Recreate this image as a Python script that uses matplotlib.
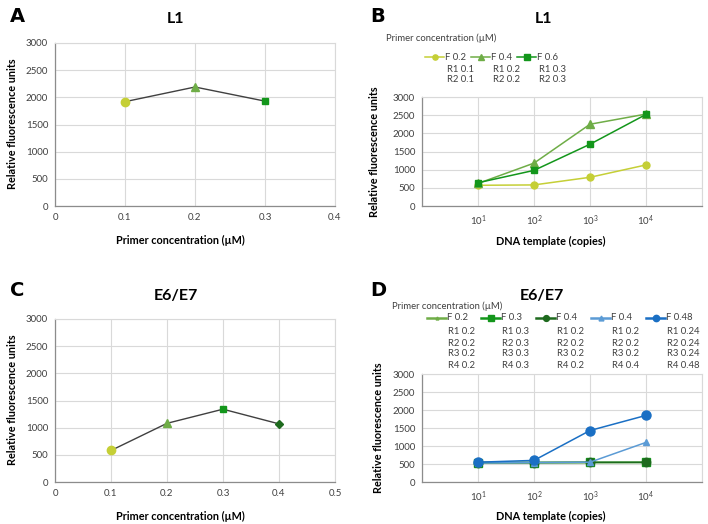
import matplotlib
matplotlib.use("Agg")
import matplotlib.pyplot as plt
from matplotlib.lines import Line2D

plt.rcParams['font.family'] = ['Lato', 'DejaVu Sans']
plt.rcParams['mathtext.default'] = 'regular'

# ---- data ----
conc_A = [0.1, 0.2, 0.3]
rfu_A = [1920, 2190, 1930]

conc_C = [0.1, 0.2, 0.3, 0.4]
rfu_C = [580, 1080, 1340, 1070]

templates = ['$10^1$', '$10^2$', '$10^3$', '$10^4$']

B_labels = ['F 0.2', 'F 0.4', 'F 0.6']
B_sub = [['R1 0.1', 'R2 0.1'], ['R1 0.2', 'R2 0.2'], ['R1 0.3', 'R2 0.3']]
B_f02 = [570, 580, 790, 1130]
B_f04 = [620, 1180, 2250, 2530]
B_f06 = [640, 980, 1700, 2520]

D_labels = ['F 0.2', 'F 0.3', 'F 0.4', 'F 0.4', 'F 0.48']
D_sub = [['R1 0.2', 'R2 0.2', 'R3 0.2', 'R4 0.2'],
         ['R1 0.3', 'R2 0.3', 'R3 0.3', 'R4 0.3'],
         ['R1 0.2', 'R2 0.2', 'R3 0.2', 'R4 0.2'],
         ['R1 0.2', 'R2 0.2', 'R3 0.2', 'R4 0.4'],
         ['R1 0.24', 'R2 0.24', 'R3 0.24', 'R4 0.48']]
D_f02 = [540, 540, 540, 545]
D_f03 = [540, 540, 545, 545]
D_f04 = [540, 540, 545, 545]
D_f04b = [530, 540, 550, 1100]
D_f048 = [550, 600, 1430, 1850]

c_yel = '#c5cf36'
c_lgr = '#6fad47'
c_grn = '#13961b'
c_dgr = '#1e6a1e'
c_lbl = '#5b9bd5'
c_blu = '#1a6fc4'
grid_c = '#d9d9d9'
txt_c = '#404040'

W, H = 708, 524
fig = plt.figure(figsize=(W / 100, H / 100), dpi=100)


def box(l, t, r, b):
    return [l / W, 1 - b / H, (r - l) / W, (b - t) / H]


def style(ax):
    ax.grid(True, color=grid_c, lw=0.8)
    ax.set_axisbelow(True)
    for s in ['top', 'right']:
        ax.spines[s].set_color(grid_c)
        ax.spines[s].set_linewidth(0.8)
    for s in ['left', 'bottom']:
        ax.spines[s].set_color('#8c8c8c')
        ax.spines[s].set_linewidth(0.9)
    ax.tick_params(length=0, labelsize=7, labelcolor=txt_c, pad=5)
    ax.set_ylim(0, 3000)
    ax.set_yticks(range(0, 3001, 500))


# panel A
axA = fig.add_axes(box(55, 43, 335, 206))
style(axA)
axA.plot(conc_A, rfu_A, color='#404040', lw=1)
for x, y, m, c, s in zip(conc_A, rfu_A, ['o', '^', 's'], [c_yel, c_lgr, c_grn], [6, 6, 5]):
    axA.plot(x, y, marker=m, color=c, ms=s, ls='none')
axA.set_xlim(0, 0.4)
axA.set_xticks([0, 0.1, 0.2, 0.3, 0.4])
axA.set_xticklabels(['0', '0.1', '0.2', '0.3', '0.4'])

# panel C
axC = fig.add_axes(box(55, 319, 335, 482))
style(axC)
axC.plot(conc_C, rfu_C, color='#404040', lw=1)
for x, y, m, c, s in zip(conc_C, rfu_C, ['o', '^', 's', 'D'], [c_yel, c_lgr, c_grn, c_dgr], [6, 6, 5, 4.5]):
    axC.plot(x, y, marker=m, color=c, ms=s, ls='none')
axC.set_xlim(0, 0.5)
axC.set_xticks([0, 0.1, 0.2, 0.3, 0.4, 0.5])
axC.set_xticklabels(['0', '0.1', '0.2', '0.3', '0.4', '0.5'])

xpos = [1, 2, 3, 4]

# panel B
axB = fig.add_axes(box(422, 97, 702, 206))
style(axB)
B_styles = [(B_f02, c_yel, 'o', 5), (B_f04, c_lgr, '^', 5.5), (B_f06, c_grn, 's', 5)]
for vals, c, m, s in B_styles:
    axB.plot(xpos, vals, color=c, marker=m, ms=s, lw=1.1)
axB.set_xlim(0, 5)
axB.set_xticks([0, 1, 2, 3, 4, 5])
axB.set_xticklabels([''] + templates + [''])

# panel D
axD = fig.add_axes(box(422, 374, 702, 482))
style(axD)
D_styles = [(D_f02, c_lgr, '^', 3), (D_f03, c_grn, 's', 6), (D_f04, c_dgr, 'o', 6),
            (D_f04b, c_lbl, '^', 5), (D_f048, c_blu, 'o', 6.5)]
for vals, c, m, s in D_styles:
    axD.plot(xpos, vals, color=c, marker=m, ms=s, lw=1.1)
axD.set_xlim(0, 5)
axD.set_xticks([0, 1, 2, 3, 4, 5])
axD.set_xticklabels([''] + templates + [''])

# overlay in pixel coordinates for titles and legends
ov = fig.add_axes([0, 0, 1, 1], zorder=-1)
ov.set_xlim(0, W)
ov.set_ylim(H, 0)
ov.axis('off')

for x, y, s in [(10, 17, 'A'), (370, 17, 'B'), (10, 290, 'C'), (370, 290, 'D')]:
    ov.text(x, y, s, fontsize=14, fontweight='bold', family='DejaVu Sans',
            ha='left', va='center')
for x, y, s in [(176, 19, 'L1'), (544, 19, 'L1'), (176, 296, 'E6/E7'), (542, 296, 'E6/E7')]:
    ov.text(x, y, s, fontsize=11.5, fontweight='bold', ha='center', va='center')

for x, y, s in [(180, 240, 'Primer concentration (µM)'), (551, 241, 'DNA template (copies)'),
                (180, 516, 'Primer concentration (µM)'), (551, 516, 'DNA template (copies)')]:
    ov.text(x, y, s, fontsize=7.8, fontweight='bold', ha='center', va='center')
for x, y, s in [(13, 124, 'Relative fluorescence units'), (374, 152, 'Relative fluorescence units'),
                (13, 400, 'Relative fluorescence units'), (378, 428, 'Relative fluorescence units')]:
    ov.text(x, y, s, fontsize=7.8, fontweight='bold', ha='center', va='center', rotation=90)

# legend B
ov.text(386, 38, 'Primer concentration (µM)', fontsize=6.8, color=txt_c, va='center')
B_lx = [425, 471, 517]
for i, (vals, c, m, s) in enumerate(B_styles):
    x0 = B_lx[i]
    ov.add_line(Line2D([x0, x0 + 19], [57, 57], color=c, lw=1.1))
    ov.plot(x0 + 9.5, 57, marker=m, color=c, ms=s * 0.75)
    ov.text(x0 + 20, 57, B_labels[i], fontsize=6.8, color=txt_c, va='center')
    for j, t in enumerate(B_sub[i]):
        ov.text(x0 + 22, 69 + 11 * j, t, fontsize=6.8, color=txt_c, va='center')

# legend D
ov.text(392, 306, 'Primer concentration (µM)', fontsize=6.8, color=txt_c, va='center')
D_lx = [427, 481, 536, 591, 646]
for i, (vals, c, m, s) in enumerate(D_styles):
    x0 = D_lx[i]
    ov.add_line(Line2D([x0, x0 + 19], [318, 318], color=c, lw=1.8))
    ov.plot(x0 + 9.5, 318, marker=m, color=c, ms=s * 0.7)
    ov.text(x0 + 20, 318, D_labels[i], fontsize=6.8, color=txt_c, va='center')
    for j, t in enumerate(D_sub[i]):
        ov.text(x0 + 21, 332 + 11 * j, t, fontsize=6.8, color=txt_c, va='center')

fig.savefig('out.png', dpi=100)
